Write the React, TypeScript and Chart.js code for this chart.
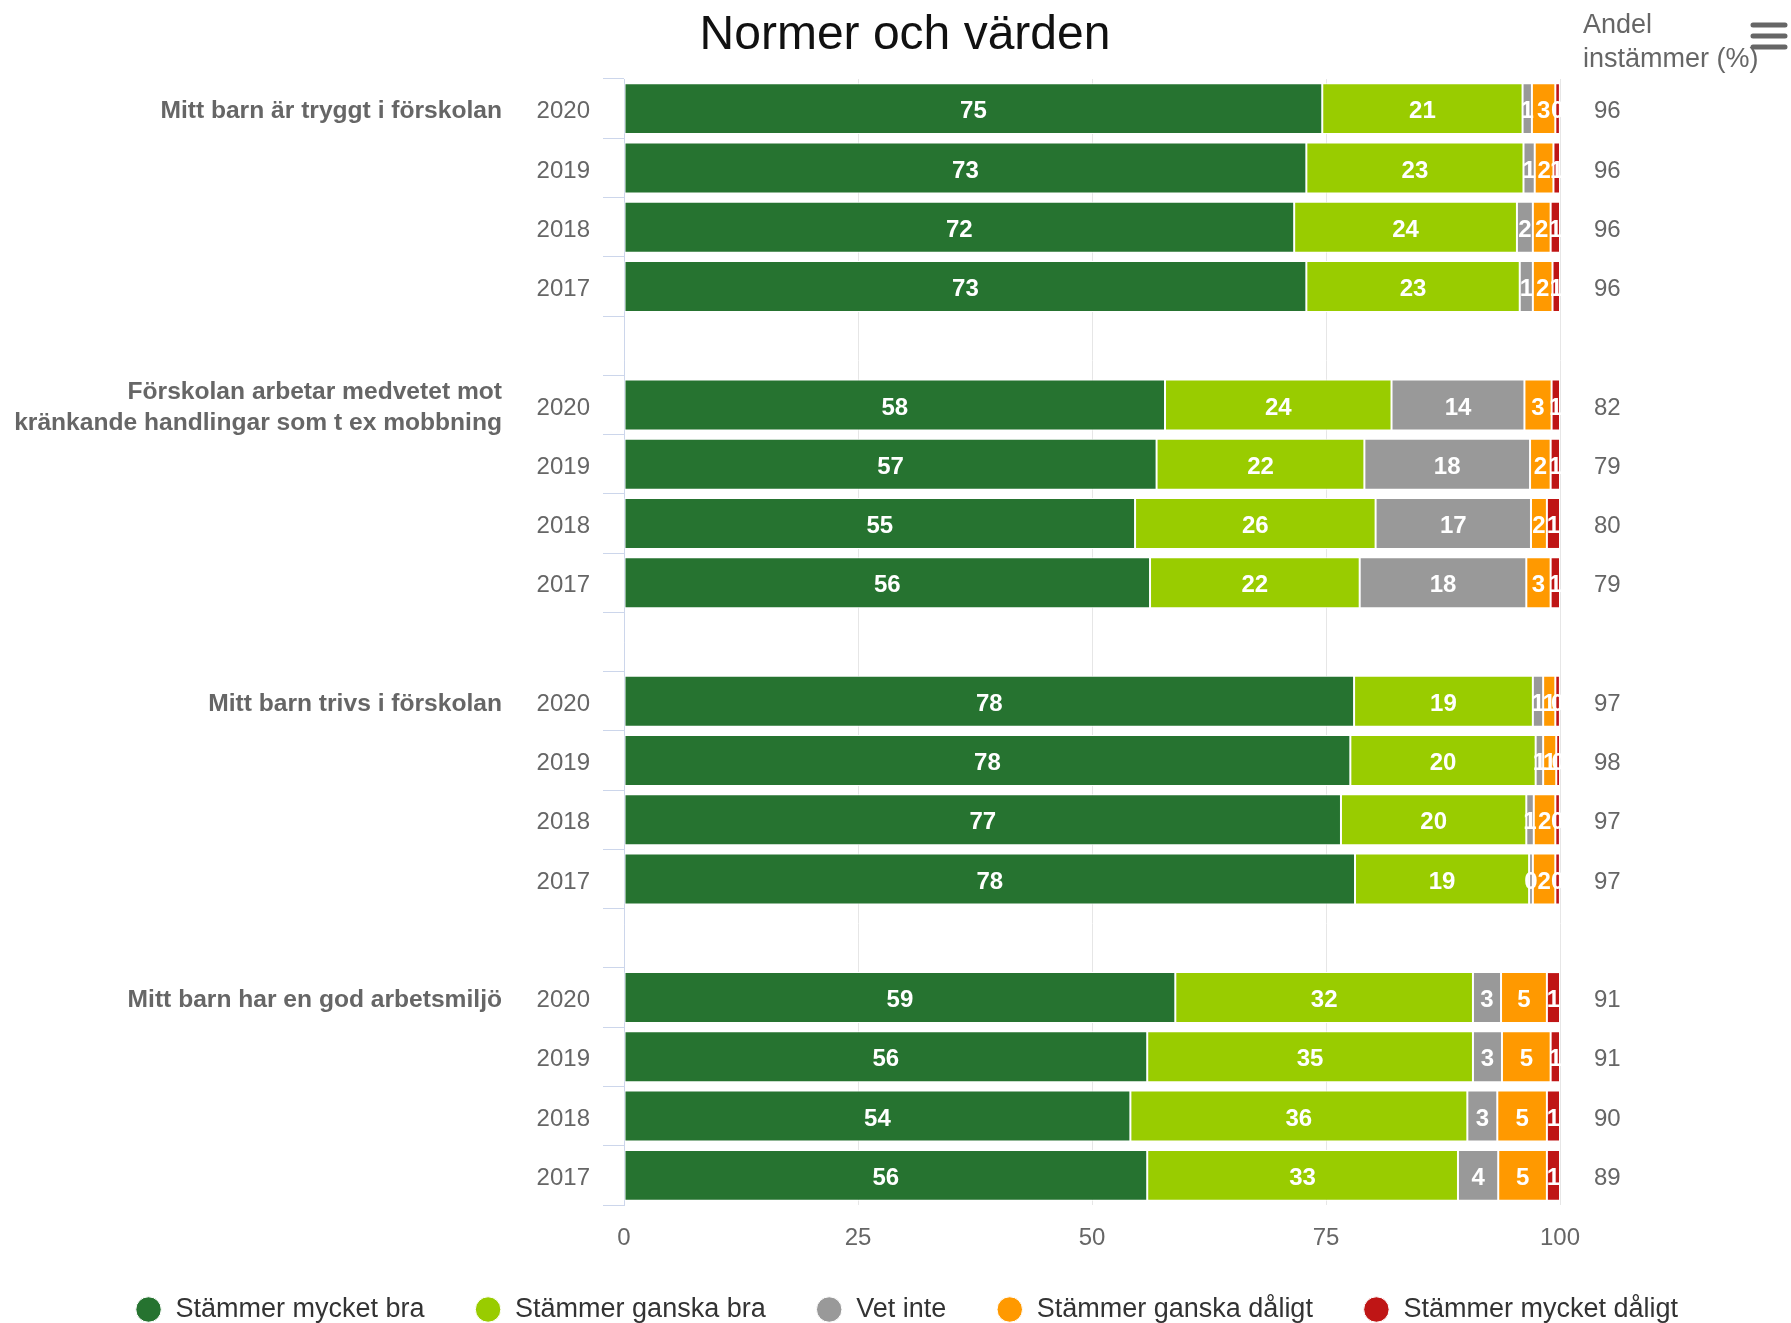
import React, { useEffect, useRef } from "react";
import { Chart, registerables } from "chart.js";

Chart.register(...registerables);

const FONT = '"Liberation Sans", Arial, sans-serif';

const chartTitle = "Normer och värden";
const rightHeader = ["Andel", "instämmer (%)"];

const questions: string[][] = [
  ["Mitt barn är tryggt i förskolan"],
  ["Förskolan arbetar medvetet mot", "kränkande handlingar som t ex mobbning"],
  ["Mitt barn trivs i förskolan"],
  ["Mitt barn har en god arbetsmiljö"],
];
const years = ["2020", "2019", "2018", "2017"];

const seriesNames = [
  "Stämmer mycket bra",
  "Stämmer ganska bra",
  "Vet inte",
  "Stämmer ganska dåligt",
  "Stämmer mycket dåligt",
];
const seriesColors = ["#267330", "#99CC00", "#999999", "#FF9900", "#BF1515"];

// 4 questions x 4 years (2020, 2019, 2018, 2017)
const mycketBra = [74.6, 72.9, 71.6, 72.9, 57.8, 56.9, 54.6, 56.2, 78.0, 77.6, 76.6, 78.1, 58.9, 55.9, 54.1, 55.9];
const ganskaBra = [21.4, 23.2, 23.8, 22.8, 24.2, 22.2, 25.7, 22.4, 19.1, 19.8, 19.8, 18.6, 31.8, 34.8, 36.0, 33.2];
const vetInte = [1.0, 1.2, 1.7, 1.4, 14.2, 17.7, 16.6, 17.8, 1.1, 0.8, 0.8, 0.4, 3.0, 3.1, 3.2, 4.3];
const ganskaDaligt = [2.5, 2.0, 1.9, 2.1, 2.9, 2.2, 1.7, 2.6, 1.3, 1.4, 2.3, 2.4, 4.9, 5.2, 5.3, 5.2];
const mycketDaligt = [0.49, 0.7, 1.0, 0.8, 0.9, 1.0, 1.4, 1.0, 0.49, 0.4, 0.49, 0.49, 1.4, 1.0, 1.4, 1.4];
const andelInstammer = [96, 96, 96, 96, 82, 79, 80, 79, 97, 98, 97, 97, 91, 91, 90, 89];

const xTicks = [0, 25, 50, 75, 100];

// Insert an empty row between question groups
function withGaps<T>(values: T[], gap: T): T[] {
  const out: T[] = [];
  for (let g = 0; g < questions.length; g++) {
    for (let k = 0; k < years.length; k++) out.push(values[g * years.length + k]);
    if (g < questions.length - 1) out.push(gap);
  }
  return out;
}

const rowLabels = withGaps(
  questions.flatMap(() => years),
  ""
);
const rightLabels = withGaps(andelInstammer.map(String), "");
const seriesValues = [mycketBra, ganskaBra, vetInte, ganskaDaligt, mycketDaligt];

// row labels sit slightly below the bar centre (second line of a tight 2-line label)
function lowered(this: any, value: any) {
  const l = this.getLabelForValue(value);
  return l ? ["", l] : "";
}

const decorPlugin = {
  id: "decor",
  afterDatasetsDraw(chart: any) {
    const ctx = chart.ctx;
    ctx.save();
    ctx.font = `bold 24px ${FONT}`;
    ctx.fillStyle = "#ffffff";
    ctx.textAlign = "center";
    ctx.textBaseline = "middle";
    chart.data.datasets.forEach((ds: any, i: number) => {
      const meta = chart.getDatasetMeta(i);
      meta.data.forEach((el: any, j: number) => {
        const v = ds.data[j];
        if (v == null) return;
        const p = el.getProps(["x", "y", "base"], true);
        ctx.fillText(String(Math.round(v)), (p.x + p.base) / 2, p.y + 3);
      });
    });
    ctx.restore();
  },
  afterDraw(chart: any) {
    const ctx = chart.ctx;
    const yScale = chart.scales.y;
    ctx.save();
    // title
    ctx.fillStyle = "#111111";
    ctx.font = `48px ${FONT}`;
    ctx.textAlign = "center";
    ctx.textBaseline = "alphabetic";
    ctx.fillText(chartTitle, 905, 49);
    // right header
    ctx.fillStyle = "#666666";
    ctx.font = `27px ${FONT}`;
    ctx.textAlign = "left";
    ctx.fillText(rightHeader[0], 1583, 33);
    ctx.fillText(rightHeader[1], 1583, 67);
    // question labels
    ctx.font = `bold 24.6px ${FONT}`;
    ctx.textAlign = "right";
    ctx.textBaseline = "middle";
    ctx.fillStyle = "#666666";
    questions.forEach((lines, g) => {
      const y = yScale.getPixelForValue(g * (years.length + 1)) + 3;
      lines.forEach((line, k) => {
        ctx.fillText(line, 502, y + (k - (lines.length - 1) / 2) * 31);
      });
    });
    // menu icon
    ctx.strokeStyle = "#666666";
    ctx.lineWidth = 5;
    ctx.lineCap = "round";
    ctx.beginPath();
    [25, 36, 47].forEach((yy) => {
      ctx.moveTo(1753, yy);
      ctx.lineTo(1785, yy);
    });
    ctx.stroke();
    ctx.restore();
  },
};

export default function App() {
  const ref = useRef<HTMLCanvasElement>(null);

  useEffect(() => {
    if (!ref.current) return;
    const chart = new Chart(ref.current, {
      type: "bar",
      data: {
        labels: rowLabels,
        datasets: seriesNames.map((name, i) => ({
          label: name,
          data: withGaps<number | null>(seriesValues[i], null),
          backgroundColor: seriesColors[i],
          borderColor: "#ffffff",
          borderWidth: 1,
          borderSkipped: false,
          barPercentage: 0.86,
          categoryPercentage: 1.0,
        })),
      },
      options: {
        indexAxis: "y",
        animation: false,
        responsive: true,
        maintainAspectRatio: false,
        devicePixelRatio: 1,
        layout: { padding: { top: 79, right: 0, bottom: 0, left: 22 } },
        plugins: {
          title: { display: false },
          tooltip: { enabled: false },
          legend: {
            display: true,
            position: "bottom",
            labels: {
              usePointStyle: true,
              pointStyle: "circle",
              boxWidth: 27,
              boxHeight: 18,
              padding: 50,
              color: "#333333",
              font: { size: 27, family: FONT },
            },
          },
        },
        scales: {
          x: {
            stacked: true,
            min: 0,
            max: 100,
            afterBuildTicks: (s: any) => {
              s.ticks = xTicks.map((v) => ({ value: v }));
            },
            ticks: { color: "#666666", font: { size: 24, family: FONT }, padding: 19 },
            grid: { color: "#e6e6e6", drawTicks: false },
            border: { display: false },
            afterFit: (s: any) => {
              s.height = 41;
            },
          },
          y: {
            type: "category",
            stacked: true,
            ticks: {
              color: "#666666",
              font: { size: 24, family: FONT, lineHeight: 0.25 },
              padding: 13,
              autoSkip: false,
              callback: lowered,
            },
            grid: { offset: true, drawOnChartArea: false, drawTicks: true, tickLength: 21, color: "#ccd6eb" },
            border: { display: true, color: "#ccd6eb" },
            afterFit: (s: any) => {
              s.width = 602;
            },
          },
          y2: {
            type: "category",
            position: "right",
            labels: rightLabels,
            offset: true,
            ticks: {
              color: "#666666",
              font: { size: 24, family: FONT, lineHeight: 0.25 },
              padding: 34,
              autoSkip: false,
              callback: lowered,
            },
            grid: { display: false, drawTicks: false },
            border: { display: false },
            afterFit: (s: any) => {
              s.width = 231;
            },
          },
        },
      } as any,
      plugins: [decorPlugin],
    });
    return () => chart.destroy();
  }, []);

  return (
    <div style={{ position: "fixed", left: 0, top: 0, width: 1791, height: 1333, background: "#ffffff" }}>
      <canvas ref={ref} />
    </div>
  );
}
